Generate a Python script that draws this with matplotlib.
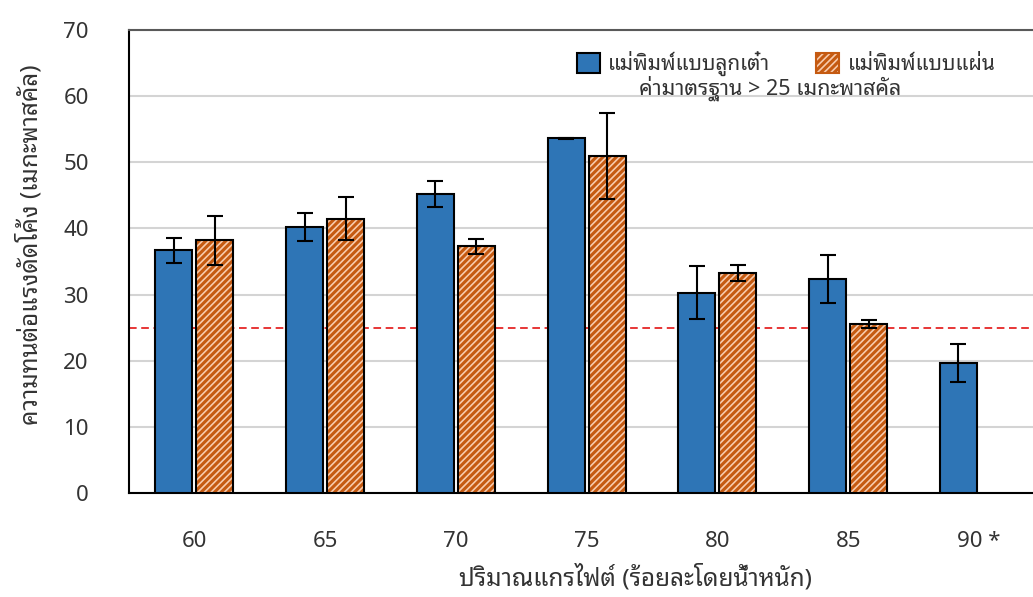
import numpy as np
import matplotlib
matplotlib.use('Agg')
import matplotlib.pyplot as plt
from matplotlib.patches import Patch

plt.rcParams['font.family'] = ['Noto Sans Thai Looped', 'DejaVu Sans']
plt.rcParams['hatch.linewidth'] = 2.2

categories = ['60', '65', '70', '75', '80', '85', '90 *']
cube_mean = [36.7, 40.2, 45.2, 53.6, 30.3, 32.4, 19.7]
cube_err = [1.9, 2.1, 2.0, 0.1, 4.0, 3.6, 2.9]
plate_mean = [38.2, 41.5, 37.3, 50.9, 33.2, 25.5, np.nan]
plate_err = [3.7, 3.2, 1.1, 6.5, 1.2, 0.6, np.nan]
standard = 25

x = np.arange(len(categories))
w = 0.283
off = 0.157

fig = plt.figure(figsize=(10.33, 5.97), dpi=100)
ax = fig.add_axes([0.1249, 0.1742, 0.886, 0.7755])

# แม่พิมพ์แบบลูกเต๋า
ax.bar(x - off, cube_mean, w, color='#2E75B6', edgecolor='black', linewidth=1.5, zorder=3)
ax.errorbar(x - off, cube_mean, yerr=cube_err, fmt='none', ecolor='black', elinewidth=1.5, capsize=6, capthick=1.5, zorder=4)

# แม่พิมพ์แบบแผ่น (ไม่มีค่าที่ 90)
pm = np.array(plate_mean)
ok = ~np.isnan(pm)
ax.bar(x[ok] + off, pm[ok], w, color='#F8CBAD', edgecolor='#C55A11', hatch='/////', linewidth=0, zorder=3)
ax.bar(x[ok] + off, pm[ok], w, color='none', edgecolor='black', linewidth=1.5, zorder=3)
ax.errorbar(x[ok] + off, pm[ok], yerr=np.array(plate_err)[ok], fmt='none', ecolor='black', elinewidth=1.5, capsize=6, capthick=1.5, zorder=4)

ax.axhline(standard, color='#E00000', linestyle=(0, (5, 3)), linewidth=1.1, zorder=2)

ax.set_xlim(-0.5, 6.5)
ax.set_ylim(0, 70)
ax.set_yticks(range(0, 71, 10))
ax.set_xticks(x)
ax.set_xticklabels(categories)
ax.tick_params(axis='both', length=0, labelsize=16, colors='#333333')
ax.tick_params(axis='x', pad=27)
ax.tick_params(axis='y', pad=29)
ax.yaxis.grid(True, color='#D4D4D4', linewidth=1.5, zorder=0)
ax.set_axisbelow(True)
for s in ['left', 'bottom']:
    ax.spines[s].set_color('black')
    ax.spines[s].set_linewidth(1.5)
ax.spines['top'].set_color('#595959')
ax.spines['top'].set_linewidth(1.5)
ax.spines['right'].set_visible(False)

ax.set_xlabel('ปริมาณแกรไฟต์ (ร้อยละโดยน้ำหนัก)', fontsize=17.5, color='#333333')
ax.xaxis.set_label_coords(0.553, -0.155)
ax.set_ylabel('ความทนต่อแรงดัดโค้ง (เมกะพาสคัล)', fontsize=17.5, color='#333333')
ax.yaxis.set_label_coords(-0.093, 0.536)

handles = [Patch(facecolor='#2E75B6', edgecolor='black', linewidth=1.5),
           Patch(facecolor='#F8CBAD', edgecolor='#C55A11', hatch='/////', linewidth=1.5)]
leg = ax.legend(handles, ['แม่พิมพ์แบบลูกเต๋า', 'แม่พิมพ์แบบแผ่น'], ncol=2, frameon=False,
                loc='upper right', bbox_to_anchor=(0.967, 0.995), fontsize=15,
                handlelength=1.1, handleheight=1.1, handletextpad=0.4, columnspacing=2.2)
for t in leg.get_texts():
    t.set_color('#333333')
ax.text(0.70, 0.873, 'ค่ามาตรฐาน > 25 เมกะพาสคัล', transform=ax.transAxes, ha='center', va='center', fontsize=15.5, color='#333333')

fig.savefig('out.png', dpi=100)
